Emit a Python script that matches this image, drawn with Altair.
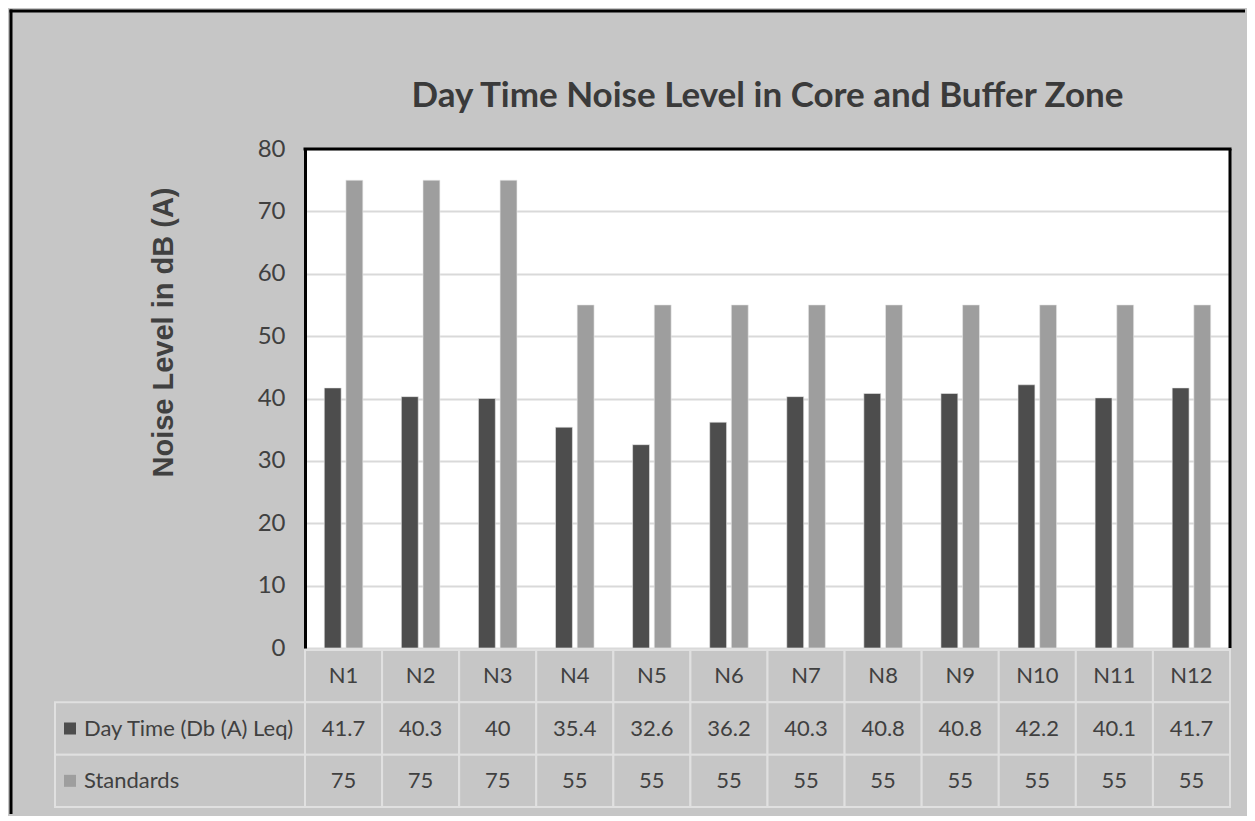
import altair as alt
import pandas as pd

# ---- data ----
categories = ["N1", "N2", "N3", "N4", "N5", "N6", "N7", "N8", "N9", "N10", "N11", "N12"]
day_time = [41.7, 40.3, 40, 35.4, 32.6, 36.2, 40.3, 40.8, 40.8, 42.2, 40.1, 41.7]
standards = [75, 75, 75, 55, 55, 55, 55, 55, 55, 55, 55, 55]
series_names = ["Day Time (Db (A) Leq)", "Standards"]
y_ticks = [0, 10, 20, 30, 40, 50, 60, 70, 80]
title_text = "Day Time Noise Level in Core and Buffer Zone"
y_title = "Noise Level in dB (A)"
row_keys = ["cat", "day", "std"]

# ---- styling ----
W, H = 925, 499
BG = "#c6c6c6"
DARK = "#4d4d4d"
LIGHT = "#9e9e9e"
TXT = "#404040"
CELL_LINE = "#e0e0e0"
FONT = "Lato"

def fmt(v):
    return f"{v:g}"

bars_df = pd.DataFrame({
    "category": categories * 2,
    "series": [series_names[0]] * len(categories) + [series_names[1]] * len(categories),
    "value": day_time + standards,
})

rows = []
for c, d, s in zip(categories, day_time, standards):
    rows.append({"category": c, "row": "cat", "text": c})
    rows.append({"category": c, "row": "day", "text": fmt(d)})
    rows.append({"category": c, "row": "std", "text": fmt(s)})
table_df = pd.DataFrame(rows)

labels_df = pd.DataFrame({"row": ["day", "std"], "label": series_names, "series": series_names})

color_scale = alt.Scale(domain=series_names, range=[DARK, LIGHT])
row_scale = alt.Scale(type="band", domain=row_keys, range=[501, 658], paddingInner=0, paddingOuter=0)
cell_x_scale = alt.Scale(type="band", domain=categories, paddingInner=0, paddingOuter=0)

bars = alt.Chart(bars_df).mark_bar(stroke="#e8e8e8", strokeWidth=0.6).encode(
    x=alt.X("category:N", sort=categories,
            scale=alt.Scale(domain=categories, paddingInner=0.5, paddingOuter=0.25), axis=None),
    xOffset=alt.XOffset("series:N", sort=series_names,
                        scale=alt.Scale(domain=series_names, paddingInner=0.22)),
    y=alt.Y("value:Q", scale=alt.Scale(domain=[0, 80]),
            axis=alt.Axis(values=y_ticks, domain=True, domainColor="black", domainWidth=3,
                          ticks=False, tickSize=0, labelPadding=20, labelFont=FONT,
                          labelFontSize=24, labelColor=TXT, grid=True, gridColor="#d9d9d9",
                          gridWidth=2, title=y_title, titleFont="Liberation Sans",
                          titleFontWeight="bold", titleFontSize=29, titleColor=TXT,
                          titleX=-142, titleY=183, titleAngle=270, titleBaseline="middle",
                          titleAlign="center")),
    color=alt.Color("series:N", scale=color_scale, legend=None),
)

cells = alt.Chart(table_df).mark_rect(fill=BG, stroke=CELL_LINE, strokeWidth=2).encode(
    x=alt.X("category:N", sort=categories, scale=cell_x_scale, axis=None),
    y=alt.Y("row:N", sort=row_keys, scale=row_scale, axis=None),
)

cell_text = alt.Chart(table_df).mark_text(font=FONT, fontSize=22, color=TXT,
                                          align="center", baseline="middle").encode(
    x=alt.X("category:N", sort=categories, scale=cell_x_scale, axis=None),
    y=alt.Y("row:N", sort=row_keys, scale=row_scale, axis=None),
    text="text:N",
)

label_cells = alt.Chart(labels_df).mark_rect(fill=BG, stroke=CELL_LINE, strokeWidth=2).encode(
    x=alt.value(-250), x2=alt.value(0),
    y=alt.Y("row:N", sort=row_keys, scale=row_scale, axis=None),
)

label_text = alt.Chart(labels_df).mark_text(font=FONT, fontSize=22, color=TXT,
                                            align="left", baseline="middle").encode(
    x=alt.value(-221),
    y=alt.Y("row:N", sort=row_keys, scale=row_scale, axis=None),
    text="label:N",
)

label_marks = alt.Chart(labels_df).mark_square(size=144, opacity=1).encode(
    x=alt.value(-235),
    y=alt.Y("row:N", sort=row_keys, scale=row_scale, axis=None),
    color=alt.Color("series:N", scale=color_scale, legend=None),
)

frame_df = pd.DataFrame({"k": [0]})
frame_top = alt.Chart(frame_df).mark_rule(color="black", strokeWidth=3).encode(
    x=alt.value(-1.5), x2=alt.value(W + 1.5), y=alt.value(0))
frame_right = alt.Chart(frame_df).mark_rule(color="black", strokeWidth=3).encode(
    x=alt.value(W), y=alt.value(0), y2=alt.value(H))
outer_left = alt.Chart(frame_df).mark_rule(color="black", strokeWidth=3).encode(
    x=alt.value(-294), y=alt.value(-139.5), y2=alt.value(665))
outer_top = alt.Chart(frame_df).mark_rule(color="black", strokeWidth=3).encode(
    x=alt.value(-295.5), x2=alt.value(940), y=alt.value(-138))

title_df = pd.DataFrame({"t": [title_text]})
title = alt.Chart(title_df).mark_text(font=FONT, fontSize=35, fontWeight="bold", color="#3a3a3a",
                                      align="center", baseline="alphabetic").encode(
    x=alt.value(W / 2), y=alt.value(-42), text="t:N")

chart = alt.layer(
    bars, cells, cell_text, label_cells, label_text, label_marks,
    frame_top, frame_right, outer_left, outer_top, title,
).resolve_scale(
    x="independent", y="independent", color="shared"
).properties(
    width=W, height=H, background=BG,
    padding={"left": 0, "top": 0, "right": 0, "bottom": 0},
).configure_view(stroke="transparent", fill="white")

chart.save("out.html", embed_options={"renderer": "svg", "actions": False})
